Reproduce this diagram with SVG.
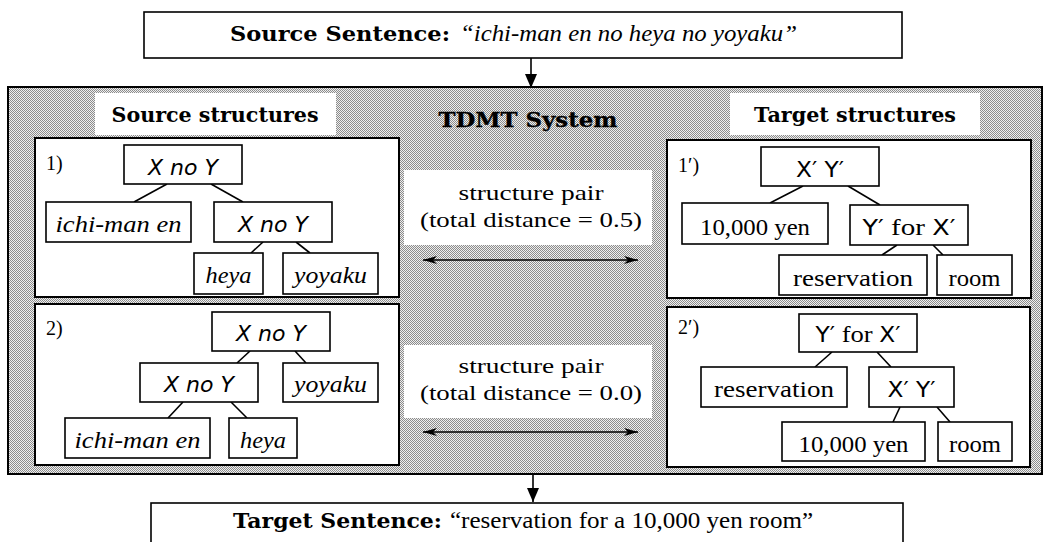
<svg xmlns="http://www.w3.org/2000/svg" width="1043" height="542" viewBox="0 0 1043 542">
<defs>
<pattern id="dither" width="2" height="2" patternUnits="userSpaceOnUse">
<rect width="2" height="2" fill="#efefef"/>
<rect x="0" y="0" width="1" height="1" fill="#8c8c8c"/>
<rect x="1" y="1" width="1" height="1" fill="#8c8c8c"/>
</pattern>
<marker id="headBig" viewBox="0 0 14 12" refX="14" refY="6" markerWidth="14" markerHeight="12" markerUnits="userSpaceOnUse" orient="auto">
<path d="M0,0 L14,6 L0,12 Z" fill="#000"/>
</marker>
<marker id="headSmall" viewBox="0 0 14 8" refX="14" refY="4" markerWidth="14" markerHeight="8" markerUnits="userSpaceOnUse" orient="auto-start-reverse">
<path d="M0,0 L14,4 L0,8 L4,4 Z" fill="#000"/>
</marker>
</defs>
<style>
.box{fill:#fff;stroke:#000;stroke-width:1.6}
.panel{fill:#fff;stroke:#000;stroke-width:2}
.t{font-family:"Liberation Serif","Times New Roman",serif;font-size:24px;fill:#000;text-anchor:middle}
.lab{font-size:21px}
.b{font-family:"DejaVu Serif","Liberation Serif",serif;font-weight:bold;font-size:20px}
.i{font-style:italic;font-size:23px}
.s{font-family:"DejaVu Sans","Liberation Sans",sans-serif;font-size:21px}
.num{font-family:"Liberation Serif",serif;font-size:20px;fill:#000}
.edge{stroke:#000;stroke-width:1.6;fill:none}
.wl{fill:#fff;stroke:none}
</style>
<rect width="1043" height="542" fill="#fff"/>

<g id="system">
<rect x="8" y="87" width="1034" height="387" fill="url(#dither)" stroke="#000" stroke-width="2"/>
<rect class="wl" x="95" y="93" width="241" height="42"/>
<text class="t b" x="215" y="122" textLength="207" lengthAdjust="spacingAndGlyphs">Source structures</text>
<rect class="wl" x="730" y="93" width="250" height="42"/>
<text class="t b" x="855" y="122" textLength="202" lengthAdjust="spacingAndGlyphs">Target structures</text>
<text class="t b" x="528" y="127" style="font-size:21px" stroke="#000" stroke-width="0.3" textLength="179" lengthAdjust="spacingAndGlyphs">TDMT System</text>
<rect class="wl" x="404" y="170" width="248" height="75"/>
<text class="t lab" x="531" y="200" textLength="145" lengthAdjust="spacingAndGlyphs">structure pair</text>
<text class="t lab" x="531" y="227" textLength="222" lengthAdjust="spacingAndGlyphs">(total distance = 0.5)</text>
<rect class="wl" x="404" y="345" width="248" height="73"/>
<text class="t lab" x="531" y="373" textLength="145" lengthAdjust="spacingAndGlyphs">structure pair</text>
<text class="t lab" x="531" y="400" textLength="222" lengthAdjust="spacingAndGlyphs">(total distance = 0.0)</text>
</g>

<g id="source-sentence">
<rect class="box" x="144" y="12" width="758" height="46"/>
<text class="t b" x="230" y="41" style="text-anchor:start;font-size:21px" textLength="220" lengthAdjust="spacingAndGlyphs">Source Sentence:</text>
<text class="t i" x="460" y="41" style="text-anchor:start" textLength="337" lengthAdjust="spacingAndGlyphs">“ichi-man en no heya no yoyaku”</text>
</g>

<g id="target-sentence">
<rect class="box" x="151" y="503" width="752" height="40"/>
<text class="t b" x="233" y="528" style="text-anchor:start;font-size:21px" textLength="209" lengthAdjust="spacingAndGlyphs">Target Sentence:</text>
<text class="t" x="450" y="528" style="text-anchor:start" textLength="363" lengthAdjust="spacingAndGlyphs">“reservation for a 10,000 yen room”</text>
</g>

<g id="source1">
<rect class="panel" x="35" y="138" width="364" height="159"/>
<text class="num" x="46" y="170">1)</text>
</g>
<g id="source2">
<rect class="panel" x="35" y="304" width="364" height="161"/>
<text class="num" x="46" y="335">2)</text>
</g>
<g id="target1">
<rect class="panel" x="667" y="140" width="364" height="158"/>
<text class="num" x="678" y="172">1′)</text>
</g>
<g id="target2">
<rect class="panel" x="667" y="307" width="363" height="160"/>
<text class="num" x="678" y="334">2′)</text>
</g>

<g id="connectors">
<line class="edge" x1="531" y1="58" x2="531" y2="88" stroke-width="2.4" marker-end="url(#headBig)"/>
<line class="edge" x1="533" y1="474" x2="533" y2="502" stroke-width="2.4" marker-end="url(#headBig)"/>
<line class="edge" x1="423" y1="260" x2="638" y2="260" stroke-width="1.2" marker-start="url(#headSmall)" marker-end="url(#headSmall)"/>
<line class="edge" x1="423" y1="432" x2="638" y2="432" stroke-width="1.2" marker-start="url(#headSmall)" marker-end="url(#headSmall)"/>
<line class="edge" x1="167" y1="184" x2="134" y2="202"/>
<line class="edge" x1="211" y1="184" x2="243" y2="202"/>
<line class="edge" x1="263" y1="242" x2="251" y2="253"/>
<line class="edge" x1="296" y1="242" x2="310" y2="253"/>
<line class="edge" x1="250" y1="351" x2="237" y2="363"/>
<line class="edge" x1="295" y1="351" x2="306" y2="363"/>
<line class="edge" x1="183" y1="402" x2="168" y2="418"/>
<line class="edge" x1="231" y1="402" x2="247" y2="418"/>
<line class="edge" x1="803" y1="186" x2="770" y2="203"/>
<line class="edge" x1="848" y1="186" x2="880" y2="205"/>
<line class="edge" x1="897" y1="245" x2="882" y2="255"/>
<line class="edge" x1="933" y1="245" x2="943" y2="255"/>
<line class="edge" x1="832" y1="352" x2="815" y2="367"/>
<line class="edge" x1="877" y1="352" x2="891" y2="367"/>
<line class="edge" x1="900" y1="407" x2="893" y2="422"/>
<line class="edge" x1="937" y1="407" x2="950" y2="422"/>
</g>

<g id="s1-root"><rect class="box" x="124" y="145" width="118" height="39"/><text class="t s i" x="183" y="175" textLength="70" lengthAdjust="spacingAndGlyphs">X no Y</text></g>
<g id="s1-ichiman"><rect class="box" x="46" y="202" width="145" height="40"/><text class="t i" x="118.5" y="232" textLength="126" lengthAdjust="spacingAndGlyphs">ichi-man en</text></g>
<g id="s1-xnoy"><rect class="box" x="214" y="202" width="118" height="40"/><text class="t s i" x="273" y="232" textLength="70" lengthAdjust="spacingAndGlyphs">X no Y</text></g>
<g id="s1-heya"><rect class="box" x="194" y="253" width="69" height="41"/><text class="t i" x="228.5" y="283" textLength="46" lengthAdjust="spacingAndGlyphs">heya</text></g>
<g id="s1-yoyaku"><rect class="box" x="283" y="253" width="95" height="41"/><text class="t i" x="330.5" y="283" textLength="73" lengthAdjust="spacingAndGlyphs">yoyaku</text></g>

<g id="s2-root"><rect class="box" x="212" y="312" width="118" height="39"/><text class="t s i" x="271" y="341" textLength="70" lengthAdjust="spacingAndGlyphs">X no Y</text></g>
<g id="s2-xnoy"><rect class="box" x="140" y="363" width="118" height="39"/><text class="t s i" x="199" y="392" textLength="70" lengthAdjust="spacingAndGlyphs">X no Y</text></g>
<g id="s2-yoyaku"><rect class="box" x="283" y="363" width="95" height="39"/><text class="t i" x="330.5" y="392" textLength="73" lengthAdjust="spacingAndGlyphs">yoyaku</text></g>
<g id="s2-ichiman"><rect class="box" x="65" y="418" width="145" height="40"/><text class="t i" x="137.5" y="448" textLength="126" lengthAdjust="spacingAndGlyphs">ichi-man en</text></g>
<g id="s2-heya"><rect class="box" x="229" y="418" width="68" height="40"/><text class="t i" x="263" y="448" textLength="46" lengthAdjust="spacingAndGlyphs">heya</text></g>

<g id="t1-root"><rect class="box" x="761" y="147" width="118" height="39"/><text class="t s" x="820" y="177" textLength="48" lengthAdjust="spacingAndGlyphs">X′ Y′</text></g>
<g id="t1-yen"><rect class="box" x="682" y="203" width="146" height="41"/><text class="t" x="755" y="235" textLength="110" lengthAdjust="spacingAndGlyphs">10,000 yen</text></g>
<g id="t1-yforx"><rect class="box" x="850" y="205" width="118" height="40"/><text class="t" x="909" y="235" textLength="93" lengthAdjust="spacingAndGlyphs"><tspan class="s">Y′</tspan>  for <tspan class="s">X′</tspan></text></g>
<g id="t1-reservation"><rect class="box" x="779" y="255" width="148" height="40"/><text class="t" x="853" y="286" textLength="120" lengthAdjust="spacingAndGlyphs">reservation</text></g>
<g id="t1-room"><rect class="box" x="937" y="255" width="75" height="40"/><text class="t" x="974.5" y="286" textLength="52" lengthAdjust="spacingAndGlyphs">room</text></g>

<g id="t2-root"><rect class="box" x="799" y="314" width="118" height="38"/><text class="t" x="858" y="342" textLength="85" lengthAdjust="spacingAndGlyphs"><tspan class="s">Y′</tspan> for <tspan class="s">X′</tspan></text></g>
<g id="t2-reservation"><rect class="box" x="701" y="367" width="146" height="40"/><text class="t" x="774" y="397" textLength="120" lengthAdjust="spacingAndGlyphs">reservation</text></g>
<g id="t2-xy"><rect class="box" x="869" y="367" width="85" height="40"/><text class="t s" x="911.5" y="397" textLength="48" lengthAdjust="spacingAndGlyphs">X′ Y′</text></g>
<g id="t2-yen"><rect class="box" x="782" y="422" width="143" height="39"/><text class="t" x="853.5" y="452" textLength="110" lengthAdjust="spacingAndGlyphs">10,000 yen</text></g>
<g id="t2-room"><rect class="box" x="938" y="422" width="74" height="39"/><text class="t" x="975" y="452" textLength="52" lengthAdjust="spacingAndGlyphs">room</text></g>
</svg>
